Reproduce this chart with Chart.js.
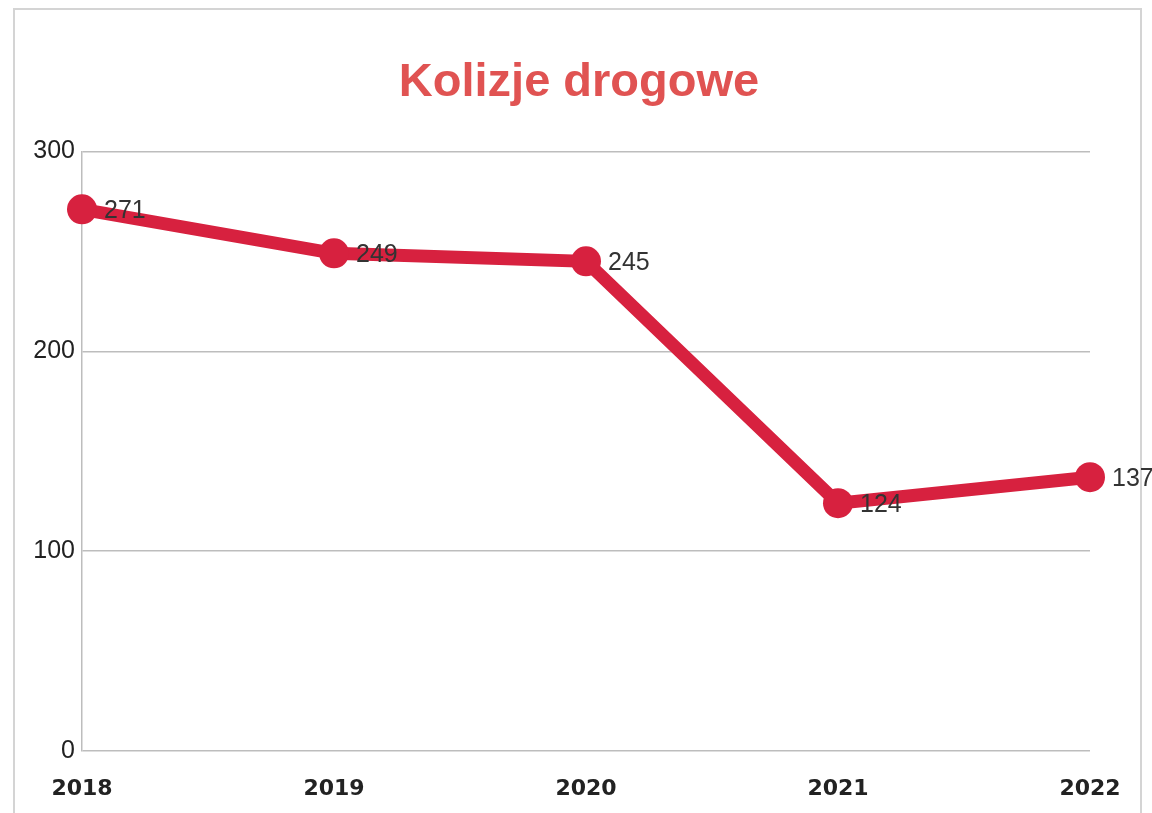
<!DOCTYPE html>
<html>
<head>
<meta charset="utf-8">
<script src="https://cdn.jsdelivr.net/npm/chart.js@4"></script>
<style>
  html, body { margin: 0; padding: 0; background: #fff; }
  #wrap { position: relative; width: 1152px; height: 813px; }
  #frame { position: absolute; left: 13px; top: 8px; width: 1129px; height: 810px;
           border: 2px solid #d4d4d4; box-sizing: border-box; }
  canvas { position: absolute; left: 0; top: 0; }
</style>
</head>
<body>
<div id="wrap">
  <div id="frame"></div>
  <canvas id="myChart" width="1152" height="813"></canvas>
</div>
<script>
var years = ["2018", "2019", "2020", "2021", "2022"]
var kolizje = [271, 249, 245, 124, 137]
var yTicks = [0, 100, 200, 300]

// value labels drawn to the right of each point
var valueLabels = {
    id: 'valueLabels',
    afterLayout: function(chart){
        // centre the title over the frame rather than over the plot
        if (chart.titleBlock) {
            chart.titleBlock.left = 68
            chart.titleBlock.right = 1090
        }
    },
    afterDatasetsDraw: function(chart){
        var ctx = chart.ctx
        var meta = chart.getDatasetMeta(0)
        ctx.save()
        ctx.font = "25px 'Liberation Sans', Arial, sans-serif"
        ctx.fillStyle = "#333"
        ctx.textAlign = "left"
        ctx.textBaseline = "middle"
        meta.data.forEach(function(pt, i){
            ctx.fillText(kolizje[i], pt.x + 22, pt.y + 2)
        })
        ctx.restore()
    }
}

var ctx = document.getElementById("myChart").getContext('2d')
var chart = new Chart(ctx, {
    type: 'line',
    data: {
        labels: years,
        datasets: [
            {
                label: "Kolizje drogowe",
                data: kolizje,
                borderColor: "#d7213f",
                backgroundColor: "#d7213f",
                borderWidth: 13,
                pointRadius: 15,
                pointHoverRadius: 15,
                pointBorderWidth: 0,
                tension: 0
            }
        ]
    },
    options: {
        responsive: false,
        animation: false,
        layout: { padding: { left: 0, right: 62, top: 0, bottom: 0 } },
        plugins: {
            legend: { display: false },
            tooltip: { enabled: false },
            title: {
                display: true,
                text: "Kolizje drogowe",
                color: "#e05352",
                font: { family: "'Liberation Sans', Arial, sans-serif", size: 47, weight: 'bold' },
                padding: { top: 55, bottom: 40 }
            }
        },
        scales: {
            x: {
                offset: false,
                grid: { display: false, drawTicks: false },
                border: { display: false },
                ticks: {
                    color: "#222",
                    padding: 25,
                    font: { family: "'DejaVu Sans', Verdana, sans-serif", size: 22, weight: 'bold' }
                },
                afterFit: function(s){ s.height = 62 }
            },
            y: {
                min: 0,
                max: 300,
                afterBuildTicks: function(s){ s.ticks = yTicks.map(function(v){ return { value: v } }) },
                grid: { color: "#bdbdbd", lineWidth: 1.5, drawTicks: false },
                border: { display: true, color: "#bdbdbd", width: 1.5 },
                ticks: {
                    color: "#222",
                    padding: 7,
                    font: { family: "'Liberation Sans', Arial, sans-serif", size: 25 }
                },
                afterFit: function(s){ s.width = 82 }
            }
        }
    },
    plugins: [valueLabels]
})
</script>
</body>
</html>
